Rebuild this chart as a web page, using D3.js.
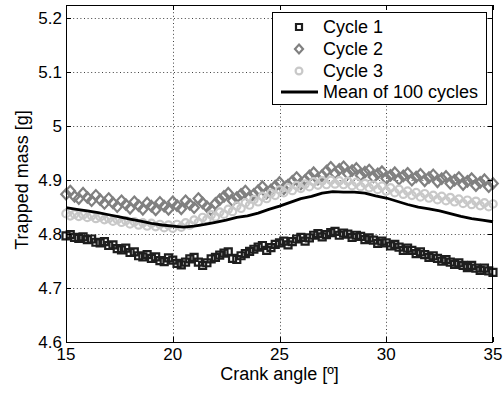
<!DOCTYPE html>
<html>
<head>
<meta charset="utf-8">
<script src="https://cdn.jsdelivr.net/npm/d3@7"></script>
<style>
  html, body { margin: 0; padding: 0; background: #fff; }
  svg { display: block; font-family: "Liberation Sans", Arial, Helvetica, sans-serif; }
</style>
</head>
<body>
<svg id="chart" width="503" height="393"></svg>
<script>
// Crank-angle grid of the sampled cycles (degrees)
const cycleAngleStart = 15;
const cycleAngleStep = 0.2;

// Trapped mass [g] per crank angle, individual cycles
const cycle1 = [
  4.797,4.799,4.794,4.792,4.795,4.790,4.791,4.785,4.784,4.786,
  4.779,4.780,4.773,4.771,4.774,4.766,4.767,4.760,4.758,4.762,
  4.755,4.758,4.751,4.749,4.756,4.752,4.746,4.743,4.748,4.754,
  4.757,4.748,4.742,4.747,4.754,4.757,4.761,4.765,4.767,4.755,
  4.753,4.760,4.764,4.768,4.772,4.776,4.779,4.770,4.775,4.781,
  4.784,4.787,4.780,4.786,4.791,4.794,4.787,4.793,4.798,4.801,
  4.795,4.799,4.803,4.805,4.798,4.802,4.800,4.794,4.798,4.796,
  4.790,4.793,4.789,4.783,4.787,4.784,4.778,4.781,4.776,4.770,
  4.774,4.770,4.764,4.767,4.762,4.757,4.760,4.755,4.750,4.753,
  4.748,4.744,4.747,4.742,4.738,4.742,4.737,4.733,4.737,4.732,
  4.729
];
const cycle2 = [
  4.874,4.880,4.870,4.866,4.876,4.868,4.862,4.872,4.864,4.857,
  4.866,4.858,4.851,4.862,4.855,4.848,4.860,4.853,4.846,4.858,
  4.852,4.845,4.859,4.852,4.846,4.860,4.853,4.847,4.862,4.855,
  4.849,4.866,4.858,4.851,4.845,4.857,4.864,4.870,4.876,4.862,
  4.868,4.874,4.880,4.868,4.874,4.881,4.888,4.876,4.882,4.889,
  4.896,4.884,4.891,4.898,4.905,4.893,4.900,4.908,4.914,4.902,
  4.909,4.917,4.924,4.913,4.920,4.925,4.912,4.918,4.922,4.909,
  4.915,4.919,4.906,4.912,4.916,4.903,4.909,4.914,4.902,4.908,
  4.913,4.900,4.906,4.911,4.899,4.905,4.910,4.897,4.903,4.907,
  4.894,4.900,4.905,4.892,4.898,4.903,4.890,4.896,4.901,4.888,
  4.894
];
const cycle3 = [
  4.838,4.834,4.837,4.833,4.836,4.831,4.834,4.829,4.832,4.827,
  4.829,4.824,4.827,4.822,4.825,4.819,4.823,4.817,4.821,4.815,
  4.820,4.814,4.818,4.812,4.817,4.811,4.818,4.813,4.821,4.817,
  4.826,4.822,4.831,4.827,4.836,4.832,4.841,4.837,4.846,4.842,
  4.852,4.848,4.858,4.854,4.864,4.860,4.870,4.866,4.876,4.872,
  4.882,4.877,4.886,4.881,4.890,4.885,4.893,4.888,4.897,4.891,
  4.899,4.892,4.900,4.893,4.899,4.892,4.898,4.890,4.896,4.888,
  4.894,4.886,4.891,4.883,4.889,4.880,4.886,4.877,4.883,4.874,
  4.880,4.872,4.877,4.869,4.875,4.867,4.872,4.864,4.870,4.862,
  4.868,4.860,4.865,4.857,4.863,4.855,4.861,4.853,4.858,4.851,
  4.856
];

// Mean over 100 cycles, sampled every 0.5 degrees
const meanAngleStep = 0.5;
const mean100 = [
  4.849,4.846,4.843,4.840,4.836,4.832,4.828,4.824,4.820,4.817,
  4.815,4.813,4.815,4.818,4.822,4.826,4.831,4.834,4.839,4.846,
  4.852,4.859,4.866,4.870,4.876,4.879,4.878,4.878,4.876,4.871,
  4.867,4.861,4.855,4.850,4.847,4.843,4.838,4.833,4.829,4.826,
  4.823
];

const xTicks = [15, 20, 25, 30, 35];
const yTicks = [4.6, 4.7, 4.8, 4.9, 5.0, 5.1, 5.2];
const yTickLabels = ["4.6", "4.7", "4.8", "4.9", "5", "5.1", "5.2"];
const legendLabels = ["Cycle 1", "Cycle 2", "Cycle 3", "Mean of 100 cycles"];

(function draw() {
  // Plot box
  const pL = 66, pR = 493, pT = 5, pB = 342;
  const svg = d3.select("#chart");

  const x = d3.scaleLinear().domain([15, 35]).range([pL, pR]);
  const y = d3.scaleLinear().domain([4.6, 5.225]).range([pB, pT]);

  const pts = (arr, start, step) => arr.map((v, i) => ({ a: +(start + i * step).toFixed(3), v }));

  // Marker shapes
  const squareSym = { draw(ctx, size) { const h = Math.sqrt(size) / 2; ctx.rect(-h, -h, 2 * h, 2 * h); } };
  const diamondSym = {
    draw(ctx, size) {
      const r = Math.sqrt(size) / 2;
      ctx.moveTo(0, -r * 1.1); ctx.lineTo(r, 0); ctx.lineTo(0, r * 1.1); ctx.lineTo(-r, 0); ctx.closePath();
    }
  };
  const sqSize = 49, diaSize = 90, circR = 3.7;
  const c1Col = "#1e1e1e", c2Col = "#808080", c3Col = "#c8c8c8";

  // Grid (dotted)
  const grid = svg.append("g").attr("stroke", "#404040").attr("stroke-width", 1)
    .attr("stroke-dasharray", "1,2.6").attr("fill", "none");
  xTicks.slice(1, -1).forEach(t => {
    grid.append("line").attr("x1", Math.round(x(t)) + 0.5).attr("x2", Math.round(x(t)) + 0.5)
      .attr("y1", pT).attr("y2", pB);
  });
  yTicks.slice(1).forEach(t => {
    grid.append("line").attr("y1", Math.round(y(t)) + 0.5).attr("y2", Math.round(y(t)) + 0.5)
      .attr("x1", pL).attr("x2", pR);
  });

  // Data layers
  const plot = svg.append("g");
  plot.selectAll("path.c1").data(pts(cycle1, cycleAngleStart, cycleAngleStep)).join("path")
    .attr("class", "c1")
    .attr("d", d3.symbol(squareSym, sqSize))
    .attr("transform", d => `translate(${x(d.a)},${y(d.v)})`)
    .attr("fill", "none").attr("stroke", c1Col).attr("stroke-width", 2.2);

  plot.selectAll("path.c2").data(pts(cycle2, cycleAngleStart, cycleAngleStep)).join("path")
    .attr("class", "c2")
    .attr("d", d3.symbol(diamondSym, diaSize))
    .attr("transform", d => `translate(${x(d.a)},${y(d.v)})`)
    .attr("fill", "none").attr("stroke", c2Col).attr("stroke-width", 2.2);

  plot.selectAll("circle.c3").data(pts(cycle3, cycleAngleStart, cycleAngleStep)).join("circle")
    .attr("class", "c3")
    .attr("cx", d => x(d.a)).attr("cy", d => y(d.v)).attr("r", circR)
    .attr("fill", "none").attr("stroke", c3Col).attr("stroke-width", 2.2);

  plot.append("path")
    .datum(pts(mean100, cycleAngleStart, meanAngleStep))
    .attr("d", d3.line().x(d => x(d.a)).y(d => y(d.v)))
    .attr("fill", "none").attr("stroke", "#000").attr("stroke-width", 2.8)
    .attr("stroke-linejoin", "round");

  // Frame and inward ticks on all four sides
  const frame = svg.append("g").attr("stroke", "#000").attr("stroke-width", 1).attr("fill", "none");
  frame.append("rect").attr("x", pL + 0.5).attr("y", pT + 0.5)
    .attr("width", pR - pL - 1).attr("height", pB - pT);
  const tl = 5;
  xTicks.forEach(t => {
    const px = Math.round(x(t)) + 0.5;
    frame.append("line").attr("x1", px).attr("x2", px).attr("y1", pB).attr("y2", pB - tl);
    frame.append("line").attr("x1", px).attr("x2", px).attr("y1", pT).attr("y2", pT + tl);
  });
  yTicks.forEach(t => {
    const py = Math.round(y(t)) + 0.5;
    frame.append("line").attr("y1", py).attr("y2", py).attr("x1", pL).attr("x2", pL + tl);
    frame.append("line").attr("y1", py).attr("y2", py).attr("x1", pR).attr("x2", pR - tl);
  });

  // Tick labels
  const fs = 17;
  svg.append("g").selectAll("text").data(xTicks).join("text")
    .attr("x", d => x(d)).attr("y", 360).attr("text-anchor", "middle")
    .attr("font-size", fs).attr("fill", "#000").text(d => d);
  svg.append("g").selectAll("text").data(yTicks).join("text")
    .attr("x", 62).attr("y", d => y(d)).attr("dy", "0.34em").attr("text-anchor", "end")
    .attr("font-size", fs).attr("fill", "#000").text((d, i) => yTickLabels[i]);

  // Axis titles
  svg.append("text").attr("x", (pL + pR) / 2).attr("y", 380).attr("text-anchor", "middle")
    .attr("font-size", 18).attr("fill", "#000").text("Crank angle [º]");
  svg.append("text").attr("transform", `translate(28,180) rotate(-90)`)
    .attr("text-anchor", "middle").attr("font-size", 18).attr("fill", "#000").text("Trapped mass [g]");

  // Legend
  const lg = svg.append("g");
  lg.append("rect").attr("x", 272.5).attr("y", 12.5).attr("width", 214).attr("height", 92)
    .attr("fill", "#fff").attr("stroke", "#000").attr("stroke-width", 1);
  const rowY = [27, 49, 71, 92];
  const mx = 299, tx = 323;
  lg.append("path").attr("d", d3.symbol(squareSym, 36)).attr("transform", `translate(${mx},${rowY[0]})`)
    .attr("fill", "none").attr("stroke", c1Col).attr("stroke-width", 2.2);
  lg.append("path").attr("d", d3.symbol(diamondSym, 64)).attr("transform", `translate(${mx},${rowY[1]})`)
    .attr("fill", "none").attr("stroke", c2Col).attr("stroke-width", 2.2);
  lg.append("circle").attr("cx", mx).attr("cy", rowY[2]).attr("r", 3.4)
    .attr("fill", "none").attr("stroke", c3Col).attr("stroke-width", 2.2);
  lg.append("line").attr("x1", 281).attr("x2", 318).attr("y1", rowY[3]).attr("y2", rowY[3])
    .attr("stroke", "#000").attr("stroke-width", 2.8);
  lg.selectAll("text").data(legendLabels).join("text")
    .attr("x", tx).attr("y", (d, i) => rowY[i]).attr("dy", "0.36em")
    .attr("font-size", 18).attr("fill", "#000").text(d => d);
})();
</script>
</body>
</html>
